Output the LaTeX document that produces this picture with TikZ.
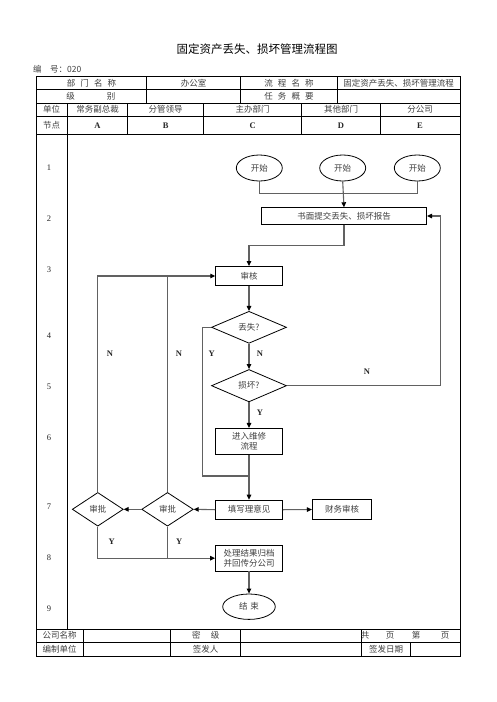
\documentclass[tikz,border=0pt]{standalone}
\usepackage{fontspec}
\setmainfont{Liberation Serif}
\newfontfamily\cjk{Noto Sans CJK SC}
\usetikzlibrary{shapes.geometric,arrows.meta}
\begin{document}
\begin{tikzpicture}[x=1pt,y=-1pt,
  txt/.style={font=\cjk\fontsize{8.5}{10}\selectfont, text=black!75, inner sep=0},
  lat/.style={font=\bfseries\fontsize{8.5}{10}\selectfont, text=black!85, inner sep=0},
  num/.style={font=\fontsize{8.5}{10}\selectfont, text=black!85, inner sep=0},
  tline/.style={draw=black, line width=0.8pt},
  shp/.style={draw=black, line width=0.8pt, inner sep=0, align=center,
     font=\cjk\fontsize{8.5}{10.5}\selectfont, text=black!75},
  box/.style={shp, rectangle},
  oval/.style={shp, ellipse},
  dia/.style={shp, diamond},
  conn/.style={draw=black!62, line width=1.1pt},
  arr/.style={conn, -{Triangle[length=5pt,width=4.5pt,color=black]}}
]
\useasboundingbox[fill=white] (0,0) rectangle (496,702);

% title
\node[font=\cjk\fontsize{11.5}{13}\selectfont, inner sep=0] (title) at (257,49) {固定资产丢失、损坏管理流程图};
\node[txt, anchor=west] (code) at (33,69) {编\quad 号：020};

% table frame
\draw[tline] (36,76.7) rectangle (460,656);
\foreach \y in {89.3,103,116,134,629,642.3} \draw[tline] (36,\y) -- (460,\y);
\foreach \x in {146.7,240.7,337.3} \draw[tline] (\x,76.7) -- (\x,103);
\foreach \x in {67.3,127.7,203.7,301.7,380.3} \draw[tline] (\x,103) -- (\x,134);
\draw[tline] (67.3,134) -- (67.3,629);
\foreach \x in {83.3,170.7,240.7,361.7} \draw[tline] (\x,629) -- (\x,656);
\draw[tline] (410.7,642.3) -- (410.7,656);

% header texts
\node[txt] (h1) at (91.5,83) {部\hspace{0.6em}门\hspace{0.6em}名\hspace{0.6em}称};
\node[txt] (h2) at (193.7,83) {办公室};
\node[txt] (h3) at (289,83) {流\hspace{0.6em}程\hspace{0.6em}名\hspace{0.6em}称};
\node[txt] (h4) at (398.6,83) {固定资产丢失、损坏管理流程};
\node[txt] (h5) at (70.7,96.2) {级};
\node[txt] (h6) at (111,96.2) {别};
\node[txt] (h7) at (289,96.2) {任\hspace{0.6em}务\hspace{0.6em}概\hspace{0.6em}要};
\node[txt] (u0) at (51.7,109.5) {单位};
\node[txt] (u1) at (97.5,109.5) {常务副总裁};
\node[txt] (u2) at (165.7,109.5) {分管领导};
\node[txt] (u3) at (252.7,109.5) {主办部门};
\node[txt] (u4) at (341,109.5) {其他部门};
\node[txt] (u5) at (420,109.5) {分公司};
\node[txt] (n0) at (51.7,125) {节点};
\node[lat] (nA) at (97.5,125.5) {A};
\node[lat] (nB) at (165.7,125.5) {B};
\node[lat] (nC) at (252.7,125.5) {C};
\node[lat] (nD) at (341,125.5) {D};
\node[lat] (nE) at (420,125.5) {E};

% row numbers
\node[num] (r1) at (49,168) {1};
\node[num] (r2) at (49,219) {2};
\node[num] (r3) at (49,270) {3};
\node[num] (r4) at (49,336) {4};
\node[num] (r5) at (49,387) {5};
\node[num] (r6) at (49,438) {6};
\node[num] (r7) at (49,507) {7};
\node[num] (r8) at (49,558) {8};
\node[num] (r9) at (49,609) {9};

% footer
\node[txt] (f1) at (59.7,635.7) {公司名称};
\node[txt] (f2) at (205.7,635.7) {密\hspace{1.2em}级};
\node[txt] (f3) at (365,635.7) {共};
\node[txt] (f4) at (390,635.7) {页};
\node[txt] (f5) at (416,635.7) {第};
\node[txt] (f6) at (445,635.7) {页};
\node[txt] (g1) at (59.7,649) {编制单位};
\node[txt] (g2) at (205.7,649) {签发人};
\node[txt] (g3) at (386,649) {签发日期};

% flow nodes
\node[oval, minimum width=46, minimum height=26] (s1) at (259.3,168) {开始};
\node[oval, minimum width=46, minimum height=26] (s2) at (342.7,168) {开始};
\node[oval, minimum width=46, minimum height=26] (s3) at (417.3,168) {开始};
\node[box, minimum width=165.4, minimum height=16.6] (rep) at (344,216) {书面提交丢失、损坏报告};
\node[box, minimum width=66.7, minimum height=19] (sh) at (249,276) {审核};
\node[dia, minimum width=75, minimum height=32] (d1) at (249,327.3) {丢失?};
\node[dia, minimum width=75, minimum height=32.4] (d2) at (249,385.7) {损坏?};
\node[box, minimum width=67, minimum height=26] (wx) at (249,441.3) {进入维修\\流程};
\node[box, minimum width=67, minimum height=19.3] (tx) at (249,509.7) {填写理意见};
\node[box, minimum width=59.4, minimum height=20] (cw) at (342,509.5) {财务审核};
\node[dia, minimum width=51.6, minimum height=33.7] (b) at (167.5,509.3) {审批};
\node[dia, minimum width=51, minimum height=33.7] (a) at (97.8,509.3) {审批};
\node[box, minimum width=67, minimum height=25.7] (cl) at (249,558.2) {处理结果归档\\并回传分公司};
\node[oval, minimum width=52.6, minimum height=25.4] (end) at (249,606.7) {结\hspace{0.3em}束};

% coordinates
\coordinate (nr) at (440.7,216);
\coordinate (yj) at (249,476);

% connectors
\draw[conn] (s1.south) -- ++(0,12) -| (s3.south);
\draw[arr] (s2.south) -- (rep.north);
\draw[arr] (rep.south) -- ++(0,21) -| (sh.north);
\draw[arr] (sh.south) -- (d1.north);
\draw[arr] (d1.south) -- (d2.north);
\draw[arr] (d2.south) -- (wx.north);
\draw[arr] (d2.east) -| (nr) -- (rep.east);
\draw[conn] (d1.west) -- ++(-9,0) |- (yj);
\draw[arr] (wx.south) -- (tx.north);
\draw[arr] (tx.east) -- (cw.west);
\draw[arr] (tx.west) -- (b.east);
\draw[arr] (b.west) -- (a.east);
\draw[arr] (a.north) |- (sh.west);
\draw[conn] (b.north) -- (b.north |- sh.west);
\draw[arr] (a.south) |- (cl.west);
\draw[conn] (b.south) -- (b.south |- cl.west);
\draw[arr] (cl.south) -- (end.north);

% branch labels
\node[lat] (lN1) at (110,353.3) {N};
\node[lat] (lN2) at (179,353.3) {N};
\node[lat] (lY1) at (211.7,353.3) {Y};
\node[lat] (lN3) at (260,353.3) {N};
\node[lat] (lY2) at (260,412.3) {Y};
\node[lat] (lN4) at (367,372) {N};
\node[lat] (lY3) at (111.7,542) {Y};
\node[lat] (lY4) at (179.3,542) {Y};
\end{tikzpicture}
\end{document}
